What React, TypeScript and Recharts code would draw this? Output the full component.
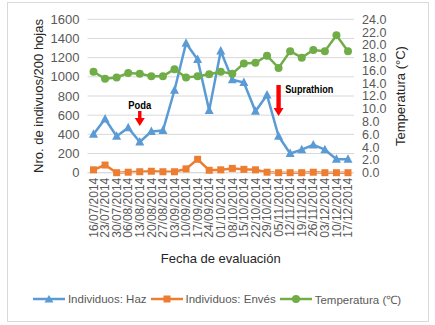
import { CartesianGrid, Label, Legend, Line, LineChart, ReferenceDot, XAxis, YAxis } from "recharts";

const fechas = [
    "16/07/2014", "23/07/2014", "30/07/2014", "06/08/2014", "13/08/2014", "20/08/2014",
    "27/08/2014", "03/09/2014", "10/09/2014", "17/09/2014", "24/09/2014", "01/10/2014",
    "08/10/2014", "15/10/2014", "22/10/2014", "29/10/2014", "05/11/2014", "12/11/2014",
    "19/11/2014", "26/11/2014", "03/12/2014", "10/12/2014", "17/12/2014",
];
const haz = [400, 560, 380, 470, 320, 430, 440, 860, 1350, 1180, 650, 1270, 970, 940, 640, 810, 380, 200, 240, 290, 240, 140, 140];
const enves = [30, 80, 0, 5, 10, 15, 10, 10, 40, 140, 25, 30, 45, 35, 30, 5, 0, 0, 0, 5, 0, 0, 0];
const temperatura = [15.8, 14.7, 14.9, 15.6, 15.5, 15.1, 15.1, 16.2, 14.9, 15.1, 15.4, 15.8, 15.5, 17.1, 17.2, 18.3, 16.4, 19.0, 18.0, 19.2, 19.0, 21.5, 19.0];
const ticksIzq = [0, 200, 400, 600, 800, 1000, 1200, 1400, 1600];
const ticksDer = [0, 2, 4, 6, 8, 10, 12, 14, 16, 18, 20, 22, 24];

const AZUL = "#5B9BD5";
const NARANJA = "#ED7D31";
const VERDE = "#70AD47";
const GRIS = "#595959";
const FUENTE = "'Liberation Sans', Arial, sans-serif";

const data = fechas.map((fecha, i) => ({ fecha, haz: haz[i], enves: enves[i], temp: temperatura[i] }));

const Triangulo = ({ cx, cy }: any) =>
    cx == null ? null : <polygon points={`${cx},${cy - 5} ${cx - 4.5},${cy + 3.5} ${cx + 4.5},${cy + 3.5}`} fill={AZUL} />;
const Cuadrado = ({ cx, cy }: any) =>
    cx == null ? null : <rect x={cx - 3.5} y={cy - 3.5} width={7} height={7} fill={NARANJA} />;
const Circulo = ({ cx, cy }: any) =>
    cx == null ? null : <circle cx={cx} cy={cy} r={4} fill={VERDE} />;

const TickFecha = ({ x, y, payload }: any) => (
    <g transform={`translate(${x},${y})`}>
        <text transform="rotate(-90)" textAnchor="end" dy="0.35em" fontSize={12} fill={GRIS} fontFamily={FUENTE}>
            {payload.value}
        </text>
    </g>
);

const tituloVertical = (texto: string, dx: number) => (props: any) => {
    const vb = props.viewBox;
    const cx = vb.x + dx;
    const cy = vb.y + vb.height / 2;
    return (
        <text x={cx} y={cy} transform={`rotate(-90, ${cx}, ${cy})`} textAnchor="middle" dominantBaseline="central"
            fontSize={13} fill="#262626" fontFamily={FUENTE}>
            {texto}
        </text>
    );
};

const tituloX = (props: any) => {
    const vb = props.viewBox;
    return (
        <text x={vb.x + vb.width / 2} y={vb.y + 85.5} textAnchor="middle" dominantBaseline="central"
            fontSize={13} fill="#262626" fontFamily={FUENTE}>
            Fecha de evaluación
        </text>
    );
};

const FlechaPoda = ({ cx, cy }: any) => (
    <g>
        <polygon fill="#FF0000"
            points={`${cx},${cy} ${cx - 5},${cy - 8} ${cx - 1.7},${cy - 8} ${cx - 1.7},${cy - 15} ${cx + 1.7},${cy - 15} ${cx + 1.7},${cy - 8} ${cx + 5},${cy - 8}`} />
        <text x={cx} y={cy - 17} textAnchor="middle" fontSize={11} fontWeight="bold" fill="#000"
            fontFamily={FUENTE} textLength={23} lengthAdjust="spacingAndGlyphs">Poda</text>
    </g>
);

const FlechaSuprathion = ({ cx, cy }: any) => (
    <g>
        <polygon fill="#FF0000"
            points={`${cx},${cy} ${cx - 5},${cy - 8} ${cx - 2.2},${cy - 8} ${cx - 2.2},${cy - 31} ${cx + 2.2},${cy - 31} ${cx + 2.2},${cy - 8} ${cx + 5},${cy - 8}`} />
        <text x={cx + 6.7} y={cy - 23.5} textAnchor="start" fontSize={11} fontWeight="bold" fill="#000"
            fontFamily={FUENTE} textLength={48} lengthAdjust="spacingAndGlyphs">Suprathion</text>
    </g>
);

const itemsLeyenda = [
    { nombre: "Individuos: Haz", color: AZUL, forma: "tri" },
    { nombre: "Individuos: Envés", color: NARANJA, forma: "sq" },
    { nombre: "Temperatura (℃)", color: VERDE, forma: "circ" },
];

const Leyenda = () => (
    <div style={{ display: "flex", justifyContent: "center", alignItems: "center", height: 20, paddingLeft: 3, fontFamily: FUENTE, fontSize: 11.5, color: GRIS }}>
        {itemsLeyenda.map((it) => (
            <div key={it.nombre} style={{ display: "flex", alignItems: "center", marginRight: 4 }}>
                <svg width={32} height={10} style={{ marginRight: 3 }}>
                    <line x1={0} y1={5} x2={32} y2={5} stroke={it.color} strokeWidth={2.5} />
                    {it.forma === "tri" && <polygon points="16,1 11.5,8.5 20.5,8.5" fill={it.color} />}
                    {it.forma === "sq" && <rect x={12.5} y={1.5} width={7} height={7} fill={it.color} />}
                    {it.forma === "circ" && <circle cx={16} cy={5} r={4} fill={it.color} />}
                </svg>
                <span>{it.nombre}</span>
            </div>
        ))}
    </div>
);

export default function App() {
    return (
        <div style={{ position: "absolute", left: 0, top: 0, width: 435, height: 325, background: "#fff" }}>
            <div style={{ position: "absolute", left: 7, top: 2, width: 420, height: 318, border: "1px solid #d9d9d9" }} />
            <div style={{ position: "absolute", left: 0, top: 0 }}>
                <LineChart width={435} height={325} data={data} margin={{ top: 19.3, right: 0, left: 0, bottom: 16 }}>
                    <CartesianGrid yAxisId="izq" vertical={false} stroke="#d9d9d9" />
                    <XAxis dataKey="fecha" height={116.3} interval={0} padding={{ left: 6, right: 6 }}
                        axisLine={{ stroke: "#d9d9d9" }} tickLine={false} tickSize={3} tickMargin={2} tick={<TickFecha />}>
                        <Label content={tituloX} />
                    </XAxis>
                    <YAxis yAxisId="izq" width={87.5} domain={[0, 1600]} ticks={ticksIzq} interval={0}
                        axisLine={false} tickLine={false} tick={{ fontSize: 13, fill: GRIS, fontFamily: FUENTE }}>
                        <Label content={tituloVertical("Nro. de indivuos/200 hojas", 38)} />
                    </YAxis>
                    <YAxis yAxisId="der" orientation="right" width={81} domain={[0, 24]} ticks={ticksDer} interval={0}
                        axisLine={false} tickLine={false} tickFormatter={(v: number) => v.toFixed(1)}
                        tick={{ fontSize: 12.5, fill: GRIS, fontFamily: FUENTE }}>
                        <Label content={tituloVertical("Temperatura (°C)", 46)} />
                    </YAxis>
                    <Legend verticalAlign="bottom" content={<Leyenda />} />
                    <Line yAxisId="izq" dataKey="haz" name="Individuos: Haz" stroke={AZUL} strokeWidth={2.5}
                        dot={<Triangulo />} activeDot={false} isAnimationActive={false} />
                    <Line yAxisId="izq" dataKey="enves" name="Individuos: Envés" stroke={NARANJA} strokeWidth={2.5}
                        dot={<Cuadrado />} activeDot={false} isAnimationActive={false} />
                    <Line yAxisId="der" dataKey="temp" name="Temperatura (℃)" stroke={VERDE} strokeWidth={2.5}
                        dot={<Circulo />} activeDot={false} isAnimationActive={false} />
                    <ReferenceDot yAxisId="izq" x="13/08/2014" y={487} shape={<FlechaPoda />} ifOverflow="visible" />
                    <ReferenceDot yAxisId="izq" x="05/11/2014" y={591} shape={<FlechaSuprathion />} ifOverflow="visible" />
                </LineChart>
            </div>
        </div>
    );
}
